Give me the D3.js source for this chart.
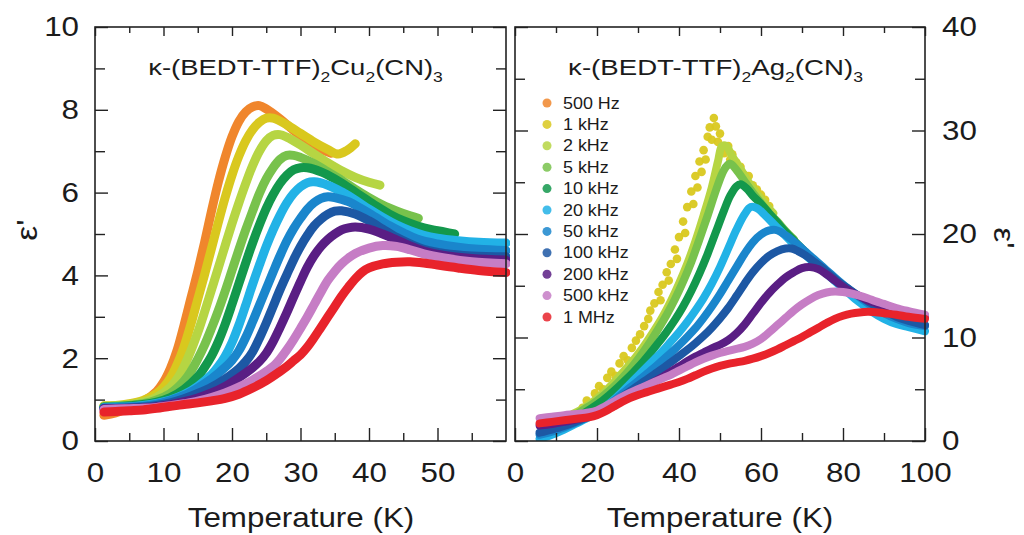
<!DOCTYPE html>
<html>
<head>
<meta charset="utf-8">
<script src="https://cdn.jsdelivr.net/npm/d3@7"></script>
<style>
  html, body { margin: 0; padding: 0; background: #fff; }
  svg { display: block; }
  text { font-family: "Liberation Sans", Arial, Helvetica, sans-serif; fill: #1b1b1b; }
</style>
</head>
<body>
<svg id="chart" width="1024" height="535"></svg>
<script>
// ---- measurement frequencies and their colours ----
const frequencies = ["500 Hz", "1 kHz", "2 kHz", "5 kHz", "10 kHz", "20 kHz",
                     "50 kHz", "100 kHz", "200 kHz", "500 kHz", "1 MHz"];
const colors = ["#f0862c", "#d9c81e", "#b6d543", "#78c24c", "#13984c", "#22b2e6",
                "#1a86cc", "#1d58a4", "#5a1e84", "#c67dc5", "#e8232b"];

// ---- axis ticks ----
const cuXMajor = [0, 10, 20, 30, 40, 50];
const cuXMinor = [5, 15, 25, 35, 45, 55];
const cuYMajor = [0, 2, 4, 6, 8, 10];
const cuYMinor = [1, 3, 5, 7, 9];
const agXMajor = [0, 20, 40, 60, 80, 100];
const agXMinor = [10, 30, 50, 70, 90];
const agYMajor = [0, 10, 20, 30, 40];
const agYMinor = [5, 15, 25, 35];

// ---- κ-(BEDT-TTF)2Cu2(CN)3 : [T (K), ε'] ----
const cu_500Hz = [[1.3,0.62],[3,0.68],[5,0.8],[7,0.95],[9,1.2],[10,1.42],[11,1.75],[12,2.2],[13,2.8],[14,3.45],[15,4.1],[16,4.8],[17,5.55],[18,6.25],[19,6.85],[20,7.35],[21,7.72],[22,7.95],[23,8.07],[24,8.1],[25,8.02],[27,7.78],[29,7.5],[31,7.25],[33,7.05],[34.5,6.95]];
const cu_1kHz = [[1.3,0.85],[3,0.86],[5,0.9],[7,0.98],[9,1.15],[10,1.3],[11,1.52],[12,1.85],[13,2.28],[14,2.82],[15,3.42],[16,4.02],[17,4.65],[18,5.28],[19,5.88],[20,6.42],[21,6.88],[22,7.25],[23,7.52],[24,7.7],[25,7.8],[26,7.8],[28,7.64],[30,7.43],[32,7.22],[34,7.04],[35.5,6.93],[36.8,7.02],[38,7.18]];
const cu_2kHz = [[1.3,0.84],[3,0.85],[5,0.88],[7,0.94],[9,1.06],[11,1.3],[12,1.5],[13,1.8],[14,2.18],[15,2.62],[16,3.12],[17,3.65],[18,4.18],[19,4.72],[20,5.25],[21,5.75],[22,6.22],[23,6.65],[24,7.0],[25,7.25],[26,7.38],[27,7.4],[28,7.34],[30,7.15],[32,6.93],[34,6.72],[36,6.53],[38,6.37],[40,6.25],[41.6,6.18]];
const cu_5kHz = [[1.3,0.83],[3,0.84],[5,0.86],[7,0.9],[9,0.99],[11,1.15],[13,1.45],[14,1.68],[15,1.98],[16,2.32],[17,2.72],[18,3.15],[19,3.62],[20,4.12],[21,4.62],[22,5.1],[23,5.55],[24,5.98],[25,6.33],[26,6.6],[27,6.8],[28,6.9],[29,6.9],[30,6.85],[32,6.7],[34,6.5],[36,6.3],[38,6.08],[40,5.88],[42,5.7],[44,5.56],[46,5.44],[47.2,5.38]];
const cu_10kHz = [[1.3,0.82],[3,0.83],[5,0.85],[7,0.88],[9,0.94],[11,1.05],[13,1.25],[15,1.55],[16,1.78],[17,2.05],[18,2.4],[19,2.82],[20,3.3],[21,3.8],[22,4.3],[23,4.78],[24,5.22],[25,5.62],[26,5.95],[27,6.22],[28,6.42],[29,6.55],[30,6.6],[31,6.6],[33,6.5],[35,6.33],[37,6.12],[39,5.9],[41,5.68],[43,5.48],[45,5.32],[47,5.2],[49,5.11],[51,5.05],[52.5,5.0]];
const cu_20kHz = [[1.3,0.81],[3,0.82],[5,0.83],[7,0.86],[9,0.91],[11,0.99],[13,1.12],[15,1.32],[17,1.6],[18,1.8],[19,2.05],[20,2.38],[21,2.8],[22,3.28],[23,3.78],[24,4.25],[25,4.7],[26,5.1],[27,5.45],[28,5.75],[29,5.98],[30,6.14],[31,6.24],[32,6.26],[34,6.18],[36,6.02],[38,5.82],[40,5.6],[42,5.4],[44,5.22],[46,5.08],[48,4.97],[50,4.9],[53,4.84],[56,4.8],[60,4.78]];
const cu_50kHz = [[1.3,0.8],[3,0.8],[5,0.82],[7,0.84],[9,0.89],[11,0.98],[13,1.1],[15,1.28],[17,1.5],[19,1.78],[20,1.95],[21,2.18],[22,2.5],[23,2.88],[24,3.28],[25,3.68],[26,4.08],[27,4.47],[28,4.83],[29,5.13],[30,5.38],[31,5.6],[32,5.76],[33,5.86],[34,5.9],[35,5.88],[37,5.78],[39,5.6],[41,5.4],[43,5.2],[45,5.03],[47,4.88],[50,4.76],[53,4.68],[56,4.63],[60,4.6]];
const cu_100kHz = [[1.3,0.79],[3,0.79],[5,0.8],[7,0.82],[9,0.86],[11,0.92],[13,1.02],[15,1.15],[17,1.3],[19,1.5],[21,1.75],[22,1.92],[23,2.15],[24,2.48],[25,2.85],[26,3.25],[27,3.65],[28,4.02],[29,4.38],[30,4.7],[31,4.97],[32,5.2],[33,5.36],[34,5.48],[35,5.55],[36,5.56],[38,5.48],[40,5.32],[42,5.12],[44,4.92],[46,4.76],[48,4.63],[51,4.53],[55,4.47],[60,4.45]];
const cu_200kHz = [[1.3,0.78],[3,0.78],[5,0.79],[7,0.8],[9,0.83],[11,0.88],[13,0.95],[15,1.04],[17,1.16],[19,1.32],[21,1.53],[23,1.77],[24,1.92],[25,2.12],[26,2.4],[27,2.74],[28,3.1],[29,3.48],[30,3.85],[31,4.2],[32,4.48],[33,4.7],[34,4.87],[35,5.0],[36,5.1],[37,5.15],[38,5.17],[40,5.12],[42,5.0],[44,4.86],[46,4.71],[48,4.59],[51,4.48],[55,4.41],[60,4.37]];
const cu_500kHz = [[1.3,0.76],[3,0.77],[5,0.78],[7,0.79],[9,0.81],[11,0.85],[13,0.9],[15,0.96],[17,1.05],[19,1.16],[21,1.3],[23,1.47],[25,1.68],[26,1.8],[27,1.98],[28,2.2],[29,2.45],[30,2.72],[31,3.0],[32,3.3],[33,3.6],[34,3.88],[35,4.1],[36,4.28],[37,4.42],[38,4.53],[40,4.66],[42,4.72],[44,4.7],[46,4.62],[48,4.52],[51,4.42],[55,4.33],[60,4.28]];
const cu_1MHz = [[1.3,0.7],[3,0.71],[5,0.73],[7,0.75],[9,0.79],[11,0.84],[13,0.88],[15,0.92],[17,0.97],[19,1.03],[21,1.13],[23,1.28],[25,1.46],[27,1.68],[28,1.8],[29,1.94],[30,2.08],[31,2.27],[32,2.5],[33,2.75],[34,3.0],[35,3.25],[36,3.5],[37,3.72],[38,3.92],[39,4.08],[40,4.18],[42,4.28],[44,4.32],[46,4.33],[48,4.3],[50,4.25],[53,4.18],[56,4.12],[60,4.07]];

// ---- κ-(BEDT-TTF)2Ag2(CN)3 : [T (K), ε'] ----
const ag_500Hz = [];
const ag_1kHz = [[16.5,3.2],[17.5,3.9],[18.5,3.6],[19.5,4.6],[20.5,5.3],[21.5,5.0],[22.5,6.1],[23.5,6.7],[24.5,6.3],[25.5,7.5],[26.5,8.2],[27.5,7.8],[28.5,9.0],[29.5,9.7],[30.5,10.3],[31.5,11.1],[32.5,11.8],[33,12.6],[34,13.3],[35,14.4],[35.5,13.6],[36,15.1],[37,16.3],[37.5,15.5],[38,17.1],[39,18.5],[39.5,17.6],[40,19.7],[41,21.2],[41.5,20.1],[42,22.6],[43,24.1],[43.5,22.9],[44,25.6],[44.5,24.5],[45,27.0],[45.5,26.0],[46,28.1],[46.5,27.2],[47,29.4],[47.5,30.3],[48,29.1],[48.5,31.2],[49,30.4],[49.5,28.9],[50,29.7],[50.5,28.4],[51,27.8],[52,28.5],[52.5,27.2],[53,27.7],[54,26.9],[55,26.5],[56,25.7],[57,25.6],[58,24.7],[59,24.3],[60,23.8],[61,23.3],[62,22.7]];
const ag_2kHz = [[14,2.6],[16,3.0],[18,3.5],[20,4.1],[22,4.8],[24,5.6],[26,6.5],[28,7.4],[30,8.4],[32,9.5],[34,10.7],[36,12.0],[38,13.5],[40,15.2],[42,17.1],[44,19.3],[46,21.8],[48,24.5],[49.5,27.0],[50.5,28.5],[51.5,28.5],[53,27.5],[55,26.3],[57,25.0],[59,23.9],[61,22.9],[63,22.0]];
const ag_5kHz = [[15,2.6],[17,3.1],[19,3.6],[21,4.2],[23,4.85],[25,5.6],[27,6.45],[29,7.4],[31,8.45],[33,9.6],[35,10.85],[37,12.2],[39,13.7],[41,15.4],[43,17.3],[45,19.5],[47,21.8],[49,24.2],[50.5,25.8],[51.5,26.5],[52.5,26.8],[54,26.2],[56,25.1],[58,24.0],[60,23.0],[62,22.0],[64,21.2],[66,20.3],[68,19.5]];
const ag_10kHz = [[13,1.8],[15,2.25],[17,2.75],[19,3.25],[21,3.8],[23,4.45],[25,5.15],[27,5.9],[29,6.7],[31,7.55],[33,8.5],[35,9.5],[37,10.55],[39,11.7],[41,13.0],[43,14.5],[45,16.2],[47,18.1],[49,20.2],[51,22.3],[52.5,23.7],[54,24.6],[55,24.8],[56.5,24.4],[58,23.7],[60,22.9],[62,22.0],[64,21.1],[66,20.2],[68,19.4],[70,18.6],[72,17.8]];
const ag_20kHz = [[6,0.2],[9,0.6],[12,1.1],[15,1.7],[18,2.3],[20,2.75],[22,3.3],[24,3.95],[26,4.7],[28,5.5],[30,6.3],[32,7.1],[34,7.9],[36,8.7],[38,9.6],[40,10.5],[42,11.5],[44,12.6],[46,13.8],[48,15.2],[50,16.8],[52,18.6],[54,20.4],[56,21.9],[57.5,22.6],[59,22.5],[61,21.8],[63,21.0],[65,20.2],[67,19.4],[69,18.6],[71,17.9],[73,17.2],[75,16.5],[77,15.8],[79,15.1],[81,14.4],[83,13.7],[85,13.1],[87,12.5],[90,11.8],[93,11.3],[96,11.0],[100,10.6]];
const ag_50kHz = [[6,0.6],[9,0.9],[12,1.3],[15,1.8],[18,2.35],[20,2.75],[22,3.25],[24,3.85],[26,4.5],[28,5.15],[30,5.8],[32,6.45],[34,7.1],[36,7.8],[38,8.5],[40,9.25],[42,10.05],[44,10.9],[46,11.9],[48,13.0],[50,14.2],[52,15.5],[54,16.8],[56,18.1],[58,19.2],[60,19.95],[62,20.35],[63.5,20.4],[65,20.15],[67,19.6],[69,18.95],[71,18.25],[73,17.55],[75,16.85],[77,16.15],[79,15.45],[81,14.8],[83,14.2],[85,13.6],[87,13.05],[90,12.35],[93,11.8],[96,11.4],[100,11.1]];
const ag_100kHz = [[6,0.8],[9,1.1],[12,1.45],[15,1.9],[18,2.4],[20,2.75],[22,3.2],[24,3.7],[26,4.25],[28,4.8],[30,5.35],[32,5.9],[34,6.45],[36,7.0],[38,7.6],[40,8.2],[42,8.8],[44,9.45],[46,10.15],[48,10.95],[50,11.85],[52,12.85],[54,14.0],[56,15.2],[58,16.3],[60,17.2],[62,17.9],[64,18.35],[66,18.6],[67.5,18.6],[69,18.35],[71,17.9],[73,17.3],[75,16.7],[77,16.0],[79,15.35],[81,14.8],[83,14.25],[85,13.75],[87,13.25],[90,12.6],[93,12.0],[96,11.6],[100,11.2]];
const ag_200kHz = [[6,1.5],[9,1.65],[12,1.85],[15,2.1],[18,2.4],[20,2.65],[22,3.05],[24,3.5],[26,3.95],[28,4.4],[30,4.85],[32,5.3],[34,5.75],[36,6.2],[38,6.7],[40,7.2],[42,7.7],[44,8.15],[46,8.55],[48,8.95],[50,9.3],[52,9.75],[54,10.4],[56,11.25],[58,12.3],[60,13.35],[62,14.3],[64,15.1],[66,15.8],[68,16.3],[70,16.7],[72,16.8],[74,16.6],[76,16.1],[78,15.5],[80,14.9],[82,14.4],[84,14.0],[86,13.6],[88,13.3],[90,13.0],[93,12.6],[96,12.3],[100,12.0]];
const ag_500kHz = [[6,2.2],[9,2.35],[12,2.5],[15,2.6],[18,2.75],[20,2.95],[22,3.35],[24,3.8],[26,4.25],[28,4.65],[30,5.0],[32,5.35],[34,5.7],[36,6.05],[38,6.4],[40,6.8],[42,7.2],[44,7.6],[46,7.95],[48,8.25],[50,8.5],[52,8.7],[54,8.9],[56,9.1],[58,9.4],[60,9.85],[62,10.5],[64,11.2],[66,11.9],[68,12.6],[70,13.2],[72,13.7],[74,14.1],[76,14.35],[78,14.45],[80,14.4],[82,14.25],[84,14.05],[86,13.8],[88,13.5],[90,13.25],[93,12.85],[96,12.55],[100,12.2]];
const ag_1MHz = [[6,1.7],[9,1.85],[12,2.0],[15,2.15],[18,2.3],[20,2.5],[22,2.85],[24,3.3],[26,3.75],[28,4.15],[30,4.45],[32,4.7],[34,4.95],[36,5.2],[38,5.45],[40,5.7],[42,6.0],[44,6.35],[46,6.7],[48,7.0],[50,7.25],[52,7.45],[54,7.6],[56,7.75],[58,7.95],[60,8.2],[62,8.5],[64,8.85],[66,9.25],[68,9.65],[70,10.05],[72,10.5],[74,10.95],[76,11.4],[78,11.8],[80,12.1],[82,12.3],[84,12.42],[86,12.48],[88,12.45],[90,12.35],[93,12.2],[96,12.0],[100,11.8]];

const cuSeries = [cu_500Hz, cu_1kHz, cu_2kHz, cu_5kHz, cu_10kHz, cu_20kHz,
                  cu_50kHz, cu_100kHz, cu_200kHz, cu_500kHz, cu_1MHz];
const agSeries = [ag_500Hz, ag_1kHz, ag_2kHz, ag_5kHz, ag_10kHz, ag_20kHz,
                  ag_50kHz, ag_100kHz, ag_200kHz, ag_500kHz, ag_1MHz];
// the 1 kHz run on the Ag salt is noisy and drawn as separate points
const agScatterIndex = 1;

// ---- layout ----
const svg = d3.select("#chart");
const TXT_K = 1.12;          // horizontal widening of all lettering
const cuX = d3.scaleLinear().domain([0, 60]).range([95, 506]);
const cuY = d3.scaleLinear().domain([0, 10]).range([441, 27]);
const agX = d3.scaleLinear().domain([0, 100]).range([515, 925]);
const agY = d3.scaleLinear().domain([0, 40]).range([441, 27]);

function widen(sel, k) {
  sel.each(function () {
    const t = d3.select(this);
    const x = +t.attr("x") || 0;
    t.attr("x", x / k).attr("transform", `scale(${k},1)`);
  });
}

function styleAxis(g) {
  g.select(".domain").remove();
  g.selectAll(".tick line").attr("stroke", "#222").attr("stroke-width", 1.4);
  g.selectAll(".tick text").attr("font-size", 28).attr("fill", "#1b1b1b")
    .style("font-family", '"Liberation Sans", Arial, sans-serif');
}

function drawFrame(x, y, o) {
  const [xl, xr] = x.range();
  const [yb, yt] = y.range();
  const g = svg.append("g");
  const add = (axis, tx, ty) => {
    const a = g.append("g").attr("transform", `translate(${tx},${ty})`).call(axis);
    styleAxis(a);
    return a;
  };
  const fmt = d3.format("d");
  // bottom
  const bx = add(d3.axisBottom(x).tickValues(o.xMajor).tickSize(-13).tickPadding(21)
    .tickFormat(d => o.xLabels.includes(d) ? fmt(d) : ""), 0, yb);
  widen(bx.selectAll(".tick text"), TXT_K);
  add(d3.axisBottom(x).tickValues(o.xMinor).tickSize(-8).tickFormat(""), 0, yb);
  // top
  add(d3.axisTop(x).tickValues(o.xMajor).tickSize(-9).tickFormat(""), 0, yt);
  add(d3.axisTop(x).tickValues(o.xMinor).tickSize(-6).tickFormat(""), 0, yt);
  // left
  const ly = add(d3.axisLeft(y).tickValues(o.yMajor).tickSize(-13).tickPadding(16)
    .tickFormat(o.yLabelSide === "left" ? fmt : ""), xl, 0);
  if (o.yLabelSide === "left") widen(ly.selectAll(".tick text"), TXT_K);
  add(d3.axisLeft(y).tickValues(o.yMinor).tickSize(-10).tickFormat(""), xl, 0);
  // right
  const ry = add(d3.axisRight(y).tickValues(o.yMajor).tickSize(-13).tickPadding(17)
    .tickFormat(o.yLabelSide === "right" ? fmt : ""), xr, 0);
  if (o.yLabelSide === "right") widen(ry.selectAll(".tick text"), TXT_K);
  add(d3.axisRight(y).tickValues(o.yMinor).tickSize(-10).tickFormat(""), xr, 0);
  // box
  g.append("rect").attr("x", xl).attr("y", yt).attr("width", xr - xl).attr("height", yb - yt)
    .attr("fill", "none").attr("stroke", "#222").attr("stroke-width", 1.6);
  return g;
}

function clipFor(id, x, y) {
  const [xl, xr] = x.range();
  const [yb, yt] = y.range();
  svg.append("clipPath").attr("id", id).append("rect")
    .attr("x", xl + 1).attr("y", yt + 1).attr("width", xr - xl + 3).attr("height", yb - yt - 1);
}

function drawCurves(series, x, y, clipId, width, scatterIdx) {
  const g = svg.append("g").attr("clip-path", `url(#${clipId})`);
  const line = d3.line().x(d => x(d[0])).y(d => y(d[1])).curve(d3.curveCatmullRom.alpha(0.5));
  series.forEach((s, i) => {
    if (!s.length) return;
    if (i === scatterIdx) {
      g.append("g").selectAll("circle").data(s).join("circle")
        .attr("cx", d => x(d[0])).attr("cy", d => y(d[1])).attr("r", 4.3)
        .attr("fill", colors[i]).attr("opacity", 0.95);
    } else {
      g.append("path").datum(s).attr("d", line)
        .attr("fill", "none").attr("stroke", colors[i]).attr("stroke-width", width)
        .attr("stroke-linecap", "round").attr("stroke-linejoin", "round");
    }
  });
}

function title(cx, baseY, metal, targetW) {
  const g = svg.append("g").attr("transform", `translate(${cx},${baseY})`);
  const t = g.append("text").attr("text-anchor", "middle").attr("font-size", 22);
  const parts = [["κ-(BEDT-TTF)", 0], ["2", 1], [metal, 0], ["2", 1], ["(CN)", 0], ["3", 1]];
  parts.forEach(([s, sub], i) => {
    const prevSub = i > 0 ? parts[i - 1][1] : 0;
    const dy = sub && !prevSub ? 7 : (!sub && prevSub ? -7 : 0);
    t.append("tspan").text(s).attr("dy", dy).attr("font-size", sub ? 14 : 22);
  });
  const w = t.node().getComputedTextLength();
  t.attr("transform", `scale(${targetW / w},1)`);
}

function plainText(x, y, str, size, anchor, rot) {
  const g = svg.append("g").attr("transform", `translate(${x},${y}) rotate(${rot || 0})`);
  g.append("text").text(str).attr("font-size", size).attr("text-anchor", anchor || "middle")
    .attr("transform", `scale(${TXT_K},1)`);
}

// ---- left panel: Cu salt ----
clipFor("clipCu", cuX, cuY);
drawCurves(cuSeries, cuX, cuY, "clipCu", 9, -1);
drawFrame(cuX, cuY, { xMajor: cuXMajor, xMinor: cuXMinor, xLabels: cuXMajor,
                      yMajor: cuYMajor, yMinor: cuYMinor, yLabelSide: "left" });
title(295.5, 75, "Cu", 295);

// ---- right panel: Ag salt ----
clipFor("clipAg", agX, agY);
drawCurves(agSeries, agX, agY, "clipAg", 8, agScatterIndex);
drawFrame(agX, agY, { xMajor: agXMajor, xMinor: agXMinor, xLabels: agXMajor,
                      yMajor: agYMajor, yMinor: agYMinor, yLabelSide: "right" });
title(715.5, 75, "Ag", 295);

// ---- legend ----
const legend = svg.append("g").attr("transform", "translate(547,103)");
frequencies.forEach((f, i) => {
  const row = legend.append("g").attr("transform", `translate(0,${i * 21.4})`);
  row.append("circle").attr("r", 4.5).attr("fill", colors[i]).attr("opacity", 0.85);
  row.append("text").text(f).attr("x", 16 / TXT_K).attr("y", 5.6).attr("font-size", 16)
    .attr("fill", "#2a2a2a").attr("transform", `scale(${TXT_K},1)`);
});

// ---- axis titles ----
plainText(301, 527, "Temperature (K)", 28, "middle", 0);
plainText(720, 527, "Temperature (K)", 28, "middle", 0);
plainText(37, 230, "ε'", 30, "middle", -90);
plainText(994, 238, "ε'", 30, "middle", 90);
</script>
</body>
</html>
